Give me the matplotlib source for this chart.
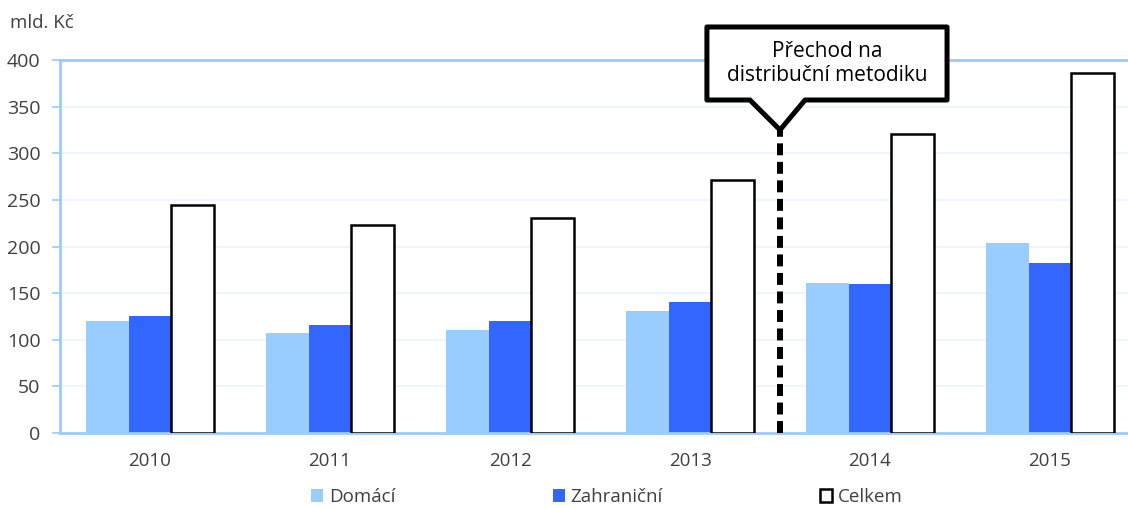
import matplotlib.pyplot as plt
import numpy as np
from matplotlib.patches import Polygon, Patch

plt.rcParams['font.family'] = ['Open Sans', 'DejaVu Sans']

# Data (mld. Kč)
years = ['2010', '2011', '2012', '2013', '2014', '2015']
domaci = [120, 107, 110, 131, 161, 204]
zahranicni = [125, 116, 120, 140, 160, 182]
celkem = [245, 223, 231, 271, 321, 386]

light_blue = '#99CCFF'
blue = '#3366FF'
text_col = '#404040'
grid_col = '#EAF4FF'

fig = plt.figure(figsize=(11.28, 5.08), dpi=100)
ax = fig.add_axes([60 / 1128, 75 / 508, 1080 / 1128, 373 / 508])

x = np.arange(len(years))
w = 0.236
ax.bar(x - w, domaci, w, color=light_blue, zorder=2)
ax.bar(x, zahranicni, w, color=blue, zorder=2)
ax.bar(x + w, celkem, w, facecolor='white', edgecolor='black', linewidth=1.8, zorder=3)

ax.set_xlim(-0.5, 5.5)
ax.set_ylim(0, 400)
ax.set_yticks(np.arange(0, 401, 50))
ax.set_xticks(x)
ax.set_xticklabels(years)
ax.yaxis.grid(True, color=grid_col, linewidth=1.2, zorder=0)
ax.set_axisbelow(True)

for side in ['left', 'top', 'bottom']:
    ax.spines[side].set_color(light_blue)
    ax.spines[side].set_linewidth(2)
ax.spines['right'].set_visible(False)

ax.tick_params(axis='y', colors=light_blue, length=6, width=1.2, pad=8,
               labelcolor=text_col, labelsize=14)
ax.tick_params(axis='x', length=0, pad=14, labelcolor=text_col, labelsize=13.5)

# break between methodologies
ax.plot([3.5, 3.5], [0, 325], color='black', linewidth=4.3,
        dashes=(2, 1.1), zorder=4, clip_on=False, solid_capstyle='butt')

# callout box with pointer
callout = [(3.094, 435.4), (4.428, 435.4), (4.428, 357.1), (3.639, 357.1),
           (3.5, 325), (3.333, 357.1), (3.094, 357.1)]
ax.add_patch(Polygon(callout, closed=True, facecolor='white', edgecolor='black',
                     linewidth=3.6, joinstyle='round', zorder=5, clip_on=False))
ax.text(3.761, 396, 'Přechod na\ndistribuční metodiku', ha='center', va='center',
        fontsize=15, color='black', linespacing=1.2, zorder=6, clip_on=False)

fig.text(10 / 1128, 1 - 23 / 508, 'mld. Kč', ha='left', va='center',
         fontsize=13.5, color=text_col)

handles = [Patch(facecolor=light_blue, edgecolor='none'),
           Patch(facecolor=blue, edgecolor='none'),
           Patch(facecolor='white', edgecolor='black', linewidth=1.8)]
fig.legend(handles, ['Domácí', 'Zahraniční', 'Celkem'], loc='center',
           bbox_to_anchor=(607 / 1128, 1 - 497 / 508), ncol=3, frameon=False,
           fontsize=13.5, labelcolor=text_col, handlelength=0.65, handleheight=0.65,
           handletextpad=0.3, columnspacing=8.4)

fig.savefig('out.png', dpi=100)
